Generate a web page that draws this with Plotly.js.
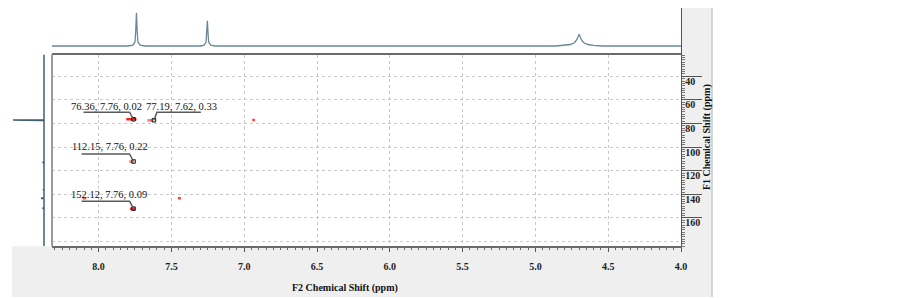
<!DOCTYPE html>
<html>
<head>
<meta charset="utf-8">
<script src="https://cdn.plot.ly/plotly-3.0.1.min.js"></script>
<style>html,body{margin:0;padding:0;background:#fff;}#chart{width:902px;height:298px;}</style>
</head>
<body>
<div id="chart"></div>
<script>
// ---------- data ----------
// F2 (1H) ticks and F1 (13C) ticks
const f2TickVals = [8.0, 7.5, 7.0, 6.5, 6.0, 5.5, 5.0, 4.5, 4.0];
const f2TickText = ["8.0", "7.5", "7.0", "6.5", "6.0", "5.5", "5.0", "4.5", "4.0"];
const f1TickVals = [40, 60, 80, 100, 120, 140, 160];
const f1TickText = ["40", "60", "80", "100", "120", "140", "160"];
const f1ExtraGrid = [180];

// 1D proton projection (top)
const topPpm = [8.32, 7.80, 7.765, 7.75, 7.745, 7.74, 7.735, 7.73, 7.715, 7.68,
                7.30, 7.275, 7.262, 7.257, 7.253, 7.249, 7.244, 7.23, 7.20,
                4.86, 4.80, 4.76, 4.73, 4.715, 4.70, 4.685, 4.67, 4.64, 4.60, 4.54, 4.0];
const topInt = [0, 0, 0.8, 4, 15, 33.3, 15, 4, 0.8, 0,
                0, 0.8, 4, 14, 25.3, 14, 4, 0.8, 0,
                0, 0.6, 1.5, 3.5, 6.5, 11.7, 6.5, 3.5, 1.5, 0.6, 0, 0];

// 1D carbon projection (left)
const leftPpm = [21.5, 76.7, 76.9, 77.05, 77.2, 77.4, 112.6, 113.0, 113.4,
                 135.8, 136.2, 136.6, 142.9, 143.3, 143.7, 151.4, 151.8, 152.2, 184];
const leftInt = [0, 0, 20, 31, 20, 0, 0, 1.5, 0,
                 0, 1, 0, 0, 3, 0, 0, 1.5, 0, 0];

// 2D cross peak contours (F2 start, F2 end, F1, level)
const blobF2Start = [7.81, 7.665, 6.945, 7.79, 7.785, 7.455, 8.11];
const blobF2End   = [7.74, 7.625, 6.925, 7.76, 7.750, 7.435, 8.085];
const blobF1      = [76.4, 77.3, 77.0, 112.3, 152.3, 143.3, 143.3];
const blobLevel   = [1.0, 0.55, 0.8, 0.45, 0.9, 0.85, 0.75];

// picked peaks (labels: F1, F2, intensity)
const pickF1  = [76.36, 77.19, 112.15, 152.12];
const pickF2  = [7.76, 7.62, 7.76, 7.76];
const pickInt = [0.02, 0.33, 0.22, 0.09];

// ---------- geometry (pixel layout of the 902x298 page) ----------
const W = 902, H = 298;
const px = v => v / W, py = v => 1 - v / H;
const plotL = 52, plotR = 681, plotT = 54.5, plotB = 246.3;
const topT = 8, leftR = 52;
const fontFam = "'Liberation Serif', 'Times New Roman', serif";

// ---------- traces ----------
const traces = [];
// top projection
traces.push({x: topPpm, y: topInt, xaxis: 'x3', yaxis: 'y2', type: 'scatter', mode: 'lines',
  line: {color: '#6a8794', width: 1.3}, hoverinfo: 'skip', showlegend: false});
// left projection
traces.push({x: leftInt, y: leftPpm, xaxis: 'x2', yaxis: 'y3', type: 'scatter', mode: 'lines',
  line: {color: '#3f5f6c', width: 1.5}, hoverinfo: 'skip', showlegend: false});
// contours
blobF1.forEach((f1, i) => {
  const a = blobLevel[i];
  traces.push({x: [blobF2Start[i], blobF2End[i]], y: [f1, f1], xaxis: 'x', yaxis: 'y',
    type: 'scatter', mode: 'lines',
    line: {color: `rgba(255,${Math.round(30 + (1 - a) * 120)},${Math.round(30 + (1 - a) * 120)},${0.5 + a * 0.5})`, width: 2.6},
    hoverinfo: 'skip', showlegend: false});
});
// peak markers
traces.push({x: pickF2, y: pickF1, xaxis: 'x', yaxis: 'y', type: 'scatter', mode: 'markers',
  marker: {symbol: 'square-open', size: 3.5, color: '#111', line: {width: 1, color: '#111'}},
  hoverinfo: 'skip', showlegend: false});

// ---------- label offsets (pixels) ----------
const textShift = [[-27, 13], [27.6, 14], [-24, 14.5], [-25, 14.4]];
const leaderPaths = [
  'M0,0 L-4,7 L-50,7',
  'M0,0 L3,8 L47,8',
  'M0,0 L-4,7.5 L-52,7.5',
  'M0,0 L-4,7.5 L-52,7.5'
];

const annotations = pickF1.map((f1, i) => ({
  x: pickF2[i], y: f1, xref: 'x', yref: 'y',
  text: `${f1.toFixed(2)}, ${pickF2[i].toFixed(2)}, ${pickInt[i].toFixed(2)}`,
  showarrow: false, xanchor: 'center', yanchor: 'middle',
  xshift: textShift[i][0], yshift: textShift[i][1],
  font: {family: fontFam, size: 10.5, color: '#111'}
}));
annotations.push({
  text: 'F2 Chemical Shift (ppm)', xref: 'paper', yref: 'paper', x: px(344.5), y: py(288),
  xanchor: 'center', yanchor: 'middle', showarrow: false,
  font: {family: fontFam, size: 10, color: '#111', weight: 'bold'}
});
annotations.push({
  text: 'F1 Chemical Shift (ppm)', xref: 'paper', yref: 'paper', x: px(706.5), y: py(137.6),
  xanchor: 'center', yanchor: 'middle', showarrow: false, textangle: -90,
  font: {family: fontFam, size: 10, color: '#111', weight: 'bold'}
});

const shapes = [
  // gray bottom band
  {type: 'rect', xref: 'paper', yref: 'paper', x0: px(12), x1: px(713), y0: py(297), y1: py(plotB),
   fillcolor: '#efefef', line: {width: 0}, layer: 'below'},
  // gray right band
  {type: 'rect', xref: 'paper', yref: 'paper', x0: px(plotR), x1: px(713), y0: py(297), y1: py(topT),
   fillcolor: '#efefef', line: {width: 0}, layer: 'below'},
  // right edge of band
  {type: 'line', xref: 'paper', yref: 'paper', x0: px(712), x1: px(712), y0: py(297), y1: py(topT),
   line: {color: '#d4d4d4', width: 2}},
  // left border of 2D frame
  {type: 'line', xref: 'paper', yref: 'paper', x0: px(plotL), x1: px(plotL), y0: py(plotB), y1: py(plotT),
   line: {color: '#9a9a9a', width: 2}},
];
// extra gridline(s)
f1ExtraGrid.forEach(v => shapes.push({type: 'line', xref: 'paper', yref: 'y', x0: px(plotL), x1: px(plotR),
  y0: v, y1: v, line: {color: '#c8c8c8', width: 1, dash: 'dot'}, layer: 'below'}));
// leader lines
leaderPaths.forEach((p, i) => shapes.push({type: 'path', xref: 'x', yref: 'y',
  xsizemode: 'pixel', ysizemode: 'pixel', xanchor: pickF2[i], yanchor: pickF1[i],
  path: p, line: {color: '#5a5a5a', width: 1.5}}));

const f2Range = [8.32, 4.0];
const f1Range = [184, 21.5];

const layout = {
  width: W, height: H,
  margin: {l: 0, r: 0, t: 0, b: 0, pad: 0},
  paper_bgcolor: '#ffffff', plot_bgcolor: '#ffffff',
  showlegend: false,
  font: {family: fontFam, color: '#111'},
  xaxis: {
    domain: [px(plotL), px(plotR)], range: f2Range, anchor: 'y',
    tickmode: 'array', tickvals: f2TickVals, ticktext: f2TickText,
    ticks: 'outside', ticklen: 4, tickwidth: 1, tickcolor: '#555',
    minor: {dtick: 0.05, ticks: 'outside', ticklen: 2, tickcolor: '#666', showgrid: false},
    showgrid: true, gridcolor: '#c8c8c8', griddash: 'dot', gridwidth: 1,
    showline: true, linecolor: '#6a6a6a', linewidth: 1.5, mirror: true,
    zeroline: false, ticklabelstandoff: 6,
    tickfont: {family: fontFam, size: 10, color: '#222', weight: 'bold'}
  },
  yaxis: {
    domain: [py(plotB), py(plotT)], range: f1Range, anchor: 'x', side: 'right',
    tickmode: 'array', tickvals: f1TickVals, ticktext: f1TickText,
    ticks: 'outside', ticklen: 20, tickwidth: 1, tickcolor: '#555',
    minor: {dtick: 2, ticks: 'outside', ticklen: 3, tickcolor: '#777', showgrid: false},
    showgrid: true, gridcolor: '#c8c8c8', griddash: 'dot', gridwidth: 1,
    showline: true, linecolor: '#555', linewidth: 1.2,
    zeroline: false, ticklabelstandoff: -19, ticklabelshift: -5,
    tickfont: {family: fontFam, size: 10, color: '#222', weight: 'bold'}
  },
  xaxis3: {domain: [px(plotL), px(plotR)], range: f2Range, anchor: 'y2', visible: false},
  yaxis2: {domain: [py(plotT), py(topT)], range: [-8.5, 38], anchor: 'x3', side: 'right',
    showline: true, linecolor: '#555', linewidth: 1.2, showticklabels: false, ticks: '',
    showgrid: false, zeroline: false},
  xaxis2: {domain: [0, px(leftR)], range: [44, -8], anchor: 'y3', visible: false},
  yaxis3: {domain: [py(plotB), py(plotT)], range: f1Range, anchor: 'x2', visible: false},
  shapes: shapes,
  annotations: annotations
};

Plotly.newPlot('chart', traces, layout, {staticPlot: true, displayModeBar: false});
</script>
</body>
</html>
